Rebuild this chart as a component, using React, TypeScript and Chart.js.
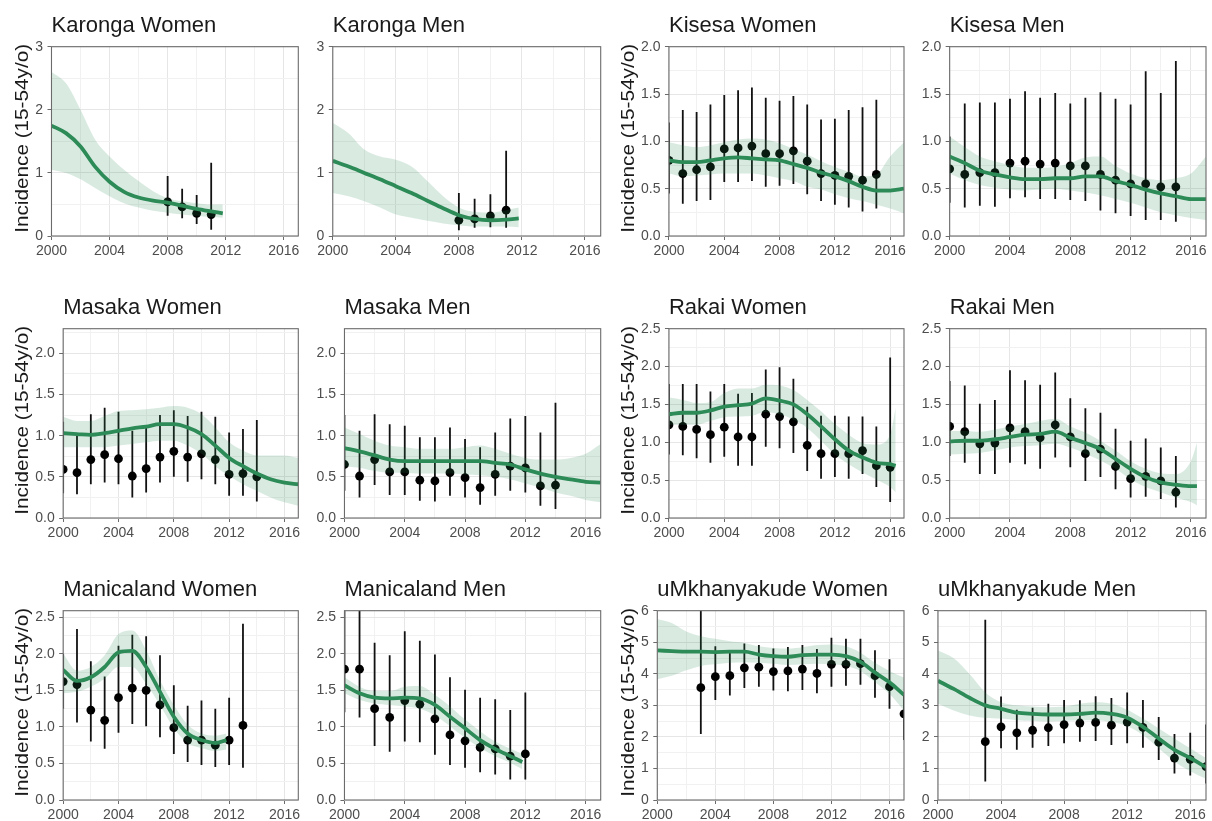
import { useEffect, useRef } from "react";
import { Chart, registerables } from "chart.js";

Chart.register(...registerables);

// ---------- styling ----------
const FONT = "'Liberation Sans', Arial, Helvetica, sans-serif";
const FIT_COLOR = "#2e8b57";
const RIBBON_COLOR = "rgba(46,139,87,0.18)";
const GRID_MAJOR = "#e6e6e6";
const GRID_MINOR = "#f1f1f1";
const FRAME_COLOR = "#6b6b6b";
const TICK_TEXT = "#4d4d4d";

// ---------- shared axes ----------
const X_MIN = 2000;
const X_MAX = 2017;
const xMajorTicks = [2000, 2004, 2008, 2012, 2016];
const xMinorTicks = [2002, 2006, 2010, 2014];

const yMajorThree = [0, 1, 2, 3];
const yMinorThree = [0.5, 1.5, 2.5];
const yMajorTwo = [0, 0.5, 1, 1.5, 2];
const yMinorTwo = [0.25, 0.75, 1.25, 1.75];
const yMajorTwoPointFive = [0, 0.5, 1, 1.5, 2, 2.5];
const yMinorTwoPointFive = [0.25, 0.75, 1.25, 1.75, 2.25];
const yMajorSix = [0, 1, 2, 3, 4, 5, 6];
const yMinorSix = [0.5, 1.5, 2.5, 3.5, 4.5, 5.5];

// ---------- model years ----------
const yearsFull = [2000, 2001, 2002, 2003, 2004, 2005, 2006, 2007, 2008, 2009, 2010, 2011, 2012, 2013, 2014, 2015, 2016, 2017];
const yearsTo2012 = [2000, 2001, 2002, 2003, 2004, 2005, 2006, 2007, 2008, 2009, 2010, 2011, 2011.8];
const yearsTo2016 = [2000, 2001, 2002, 2003, 2004, 2005, 2006, 2007, 2008, 2009, 2010, 2011, 2012, 2013, 2014, 2015, 2016, 2016.4];

// ---------- Karonga ----------
const karongaWomenFit = [1.75, 1.63, 1.42, 1.1, 0.86, 0.7, 0.61, 0.56, 0.53, 0.48, 0.43, 0.39, 0.36];
const karongaWomenHi = [2.6, 2.42, 2.0, 1.53, 1.26, 1.05, 0.87, 0.71, 0.6, 0.55, 0.52, 0.5, 0.5];
const karongaWomenLo = [1.05, 1.0, 0.9, 0.76, 0.63, 0.52, 0.45, 0.4, 0.37, 0.34, 0.32, 0.3, 0.29];
const karongaObsYears = [2008, 2009, 2010, 2011];
const karongaWomenObs = [0.54, 0.46, 0.36, 0.34];
const karongaWomenObsLo = [0.32, 0.28, 0.19, 0.1];
const karongaWomenObsHi = [0.95, 0.75, 0.65, 1.16];

const karongaMenFit = [1.19, 1.1, 1.0, 0.9, 0.79, 0.68, 0.56, 0.44, 0.33, 0.27, 0.25, 0.26, 0.28];
const karongaMenHi = [1.79, 1.63, 1.37, 1.26, 1.21, 1.1, 0.87, 0.63, 0.45, 0.38, 0.37, 0.41, 0.45];
const karongaMenLo = [0.68, 0.63, 0.55, 0.45, 0.34, 0.29, 0.24, 0.2, 0.17, 0.15, 0.15, 0.15, 0.14];
const karongaMenObs = [0.25, 0.27, 0.32, 0.41];
const karongaMenObsLo = [0.09, 0.13, 0.14, 0.13];
const karongaMenObsHi = [0.68, 0.59, 0.66, 1.35];

// ---------- Kisesa ----------
const kisesaObsYears = [2000, 2001, 2002, 2003, 2004, 2005, 2006, 2007, 2008, 2009, 2010, 2011, 2012, 2013, 2014, 2015];
const kisesaWomenFit = [0.8, 0.78, 0.78, 0.8, 0.82, 0.83, 0.82, 0.81, 0.8, 0.76, 0.72, 0.67, 0.63, 0.58, 0.52, 0.48, 0.48, 0.5];
const kisesaWomenHi = [0.99, 0.96, 0.94, 0.96, 0.99, 1.02, 1.03, 1.02, 0.98, 0.92, 0.86, 0.79, 0.73, 0.68, 0.63, 0.65, 0.84, 0.99];
const kisesaWomenLo = [0.66, 0.63, 0.64, 0.65, 0.66, 0.66, 0.66, 0.64, 0.61, 0.58, 0.52, 0.49, 0.44, 0.4, 0.37, 0.33, 0.29, 0.24];
const kisesaWomenObs = [0.8, 0.66, 0.7, 0.73, 0.92, 0.93, 0.95, 0.87, 0.87, 0.9, 0.79, 0.66, 0.64, 0.63, 0.59, 0.65];
const kisesaWomenObsLo = [0.45, 0.34, 0.37, 0.38, 0.57, 0.57, 0.58, 0.52, 0.53, 0.55, 0.44, 0.37, 0.33, 0.3, 0.26, 0.29];
const kisesaWomenObsHi = [1.2, 1.33, 1.31, 1.39, 1.49, 1.54, 1.57, 1.46, 1.43, 1.48, 1.39, 1.23, 1.24, 1.33, 1.36, 1.44];

const kisesaMenFit = [0.84, 0.77, 0.69, 0.65, 0.62, 0.6, 0.6, 0.61, 0.61, 0.63, 0.63, 0.58, 0.54, 0.49, 0.45, 0.42, 0.39, 0.39];
const kisesaMenHi = [1.05, 0.94, 0.84, 0.79, 0.75, 0.72, 0.72, 0.73, 0.77, 0.83, 0.84, 0.74, 0.66, 0.61, 0.59, 0.61, 0.66, 0.84];
const kisesaMenLo = [0.66, 0.59, 0.54, 0.51, 0.49, 0.48, 0.49, 0.5, 0.48, 0.46, 0.43, 0.39, 0.35, 0.3, 0.25, 0.22, 0.19, 0.17];
const kisesaMenObs = [0.71, 0.65, 0.67, 0.67, 0.77, 0.79, 0.76, 0.77, 0.74, 0.74, 0.65, 0.59, 0.55, 0.55, 0.52, 0.52];
const kisesaMenObsLo = [0.35, 0.3, 0.32, 0.31, 0.4, 0.41, 0.39, 0.39, 0.38, 0.37, 0.27, 0.24, 0.21, 0.17, 0.17, 0.15];
const kisesaMenObsHi = [1.05, 1.4, 1.41, 1.41, 1.45, 1.53, 1.46, 1.51, 1.4, 1.46, 1.52, 1.45, 1.39, 1.74, 1.51, 1.85];

// ---------- Masaka ----------
const masakaObsYears = [2000, 2001, 2002, 2003, 2004, 2005, 2006, 2007, 2008, 2009, 2010, 2011, 2012, 2013, 2014];
const masakaWomenFit = [1.03, 1.02, 1.01, 1.03, 1.06, 1.09, 1.11, 1.14, 1.14, 1.1, 1.02, 0.88, 0.73, 0.63, 0.54, 0.47, 0.43, 0.41];
const masakaWomenHi = [1.23, 1.18, 1.18, 1.24, 1.3, 1.31, 1.32, 1.34, 1.36, 1.34, 1.26, 1.1, 0.92, 0.82, 0.76, 0.76, 0.76, 0.73];
const masakaWomenLo = [0.86, 0.86, 0.86, 0.86, 0.88, 0.9, 0.92, 0.94, 0.94, 0.88, 0.78, 0.63, 0.51, 0.41, 0.33, 0.25, 0.19, 0.15];
const masakaWomenObs = [0.59, 0.55, 0.71, 0.77, 0.72, 0.51, 0.6, 0.74, 0.81, 0.74, 0.78, 0.71, 0.53, 0.54, 0.5];
const masakaWomenObsLo = [0.3, 0.29, 0.41, 0.43, 0.41, 0.25, 0.31, 0.43, 0.5, 0.44, 0.47, 0.41, 0.27, 0.27, 0.2];
const masakaWomenObsHi = [1.17, 1.02, 1.26, 1.34, 1.29, 1.06, 1.1, 1.25, 1.31, 1.24, 1.29, 1.23, 1.04, 1.08, 1.19];

const masakaMenFit = [0.85, 0.81, 0.76, 0.71, 0.69, 0.69, 0.69, 0.69, 0.69, 0.69, 0.67, 0.65, 0.59, 0.54, 0.5, 0.47, 0.44, 0.43];
const masakaMenHi = [1.1, 1.02, 0.94, 0.88, 0.86, 0.84, 0.84, 0.84, 0.86, 0.88, 0.84, 0.78, 0.73, 0.71, 0.71, 0.73, 0.78, 0.9];
const masakaMenLo = [0.63, 0.61, 0.57, 0.55, 0.55, 0.54, 0.54, 0.54, 0.53, 0.52, 0.5, 0.47, 0.42, 0.37, 0.31, 0.27, 0.22, 0.19];
const masakaMenObs = [0.65, 0.51, 0.71, 0.56, 0.56, 0.46, 0.45, 0.55, 0.49, 0.37, 0.53, 0.63, 0.61, 0.39, 0.4];
const masakaMenObsLo = [0.33, 0.25, 0.4, 0.28, 0.28, 0.21, 0.2, 0.27, 0.25, 0.16, 0.27, 0.33, 0.31, 0.15, 0.11];
const masakaMenObsHi = [1.25, 1.06, 1.26, 1.14, 1.12, 0.98, 0.98, 1.1, 0.96, 0.86, 1.04, 1.21, 1.24, 1.04, 1.4];

// ---------- Rakai ----------
const rakaiWomenObsYears = [2000, 2001, 2002, 2003, 2004, 2005, 2006, 2007, 2008, 2009, 2010, 2011, 2012, 2013, 2014, 2015, 2016];
const rakaiWomenFit = [1.37, 1.39, 1.39, 1.42, 1.47, 1.49, 1.51, 1.58, 1.55, 1.5, 1.37, 1.21, 1.04, 0.89, 0.8, 0.73, 0.71, 0.69];
const rakaiWomenHi = [1.59, 1.56, 1.52, 1.53, 1.65, 1.71, 1.71, 1.76, 1.75, 1.69, 1.56, 1.41, 1.24, 1.1, 0.99, 0.97, 1.1, 1.46];
const rakaiWomenLo = [1.23, 1.23, 1.23, 1.28, 1.33, 1.34, 1.35, 1.4, 1.37, 1.3, 1.19, 1.02, 0.84, 0.71, 0.6, 0.51, 0.41, 0.34];
const rakaiWomenObs = [1.23, 1.21, 1.17, 1.1, 1.2, 1.07, 1.07, 1.37, 1.34, 1.27, 0.96, 0.85, 0.85, 0.85, 0.89, 0.69, 0.67];
const rakaiWomenObsLo = [0.84, 0.83, 0.79, 0.73, 0.81, 0.69, 0.69, 0.94, 0.92, 0.86, 0.62, 0.52, 0.54, 0.52, 0.58, 0.41, 0.21];
const rakaiWomenObsHi = [1.77, 1.77, 1.77, 1.67, 1.77, 1.64, 1.65, 1.96, 1.99, 1.84, 1.47, 1.35, 1.35, 1.34, 1.34, 1.21, 2.12];

const rakaiMenObsYears = [2000, 2001, 2002, 2003, 2004, 2005, 2006, 2007, 2008, 2009, 2010, 2011, 2012, 2013, 2014, 2015];
const rakaiMenFit = [1.01, 1.02, 1.02, 1.04, 1.07, 1.1, 1.11, 1.14, 1.06, 0.99, 0.91, 0.78, 0.65, 0.54, 0.47, 0.44, 0.42, 0.42];
const rakaiMenHi = [1.15, 1.15, 1.14, 1.17, 1.21, 1.24, 1.28, 1.31, 1.21, 1.13, 1.02, 0.89, 0.75, 0.65, 0.59, 0.58, 0.75, 0.99];
const rakaiMenLo = [0.84, 0.85, 0.86, 0.89, 0.93, 0.95, 0.96, 0.98, 0.93, 0.85, 0.76, 0.65, 0.51, 0.41, 0.34, 0.27, 0.21, 0.17];
const rakaiMenObs = [1.21, 1.14, 0.98, 0.99, 1.19, 1.14, 1.06, 1.23, 1.07, 0.85, 0.91, 0.68, 0.52, 0.55, 0.49, 0.34];
const rakaiMenObsLo = [0.82, 0.73, 0.58, 0.58, 0.73, 0.71, 0.65, 0.8, 0.67, 0.49, 0.54, 0.38, 0.27, 0.28, 0.25, 0.14];
const rakaiMenObsHi = [1.81, 1.75, 1.51, 1.56, 1.95, 1.82, 1.76, 1.92, 1.58, 1.45, 1.39, 1.18, 1.02, 1.05, 0.93, 0.82];

// ---------- Manicaland ----------
const manicalandWomenObsYears = [2000, 2001, 2002, 2003, 2004, 2005, 2006, 2007, 2008, 2009, 2010, 2011, 2012, 2013];
const manicalandWomenFit = [1.78, 1.63, 1.68, 1.82, 2.02, 2.04, 1.82, 1.48, 1.14, 0.91, 0.82, 0.78, 0.82];
const manicalandWomenHi = [2.0, 1.77, 1.82, 1.98, 2.27, 2.32, 2.05, 1.64, 1.3, 1.03, 0.91, 0.88, 0.91];
const manicalandWomenLo = [1.46, 1.48, 1.55, 1.66, 1.82, 1.82, 1.59, 1.3, 0.98, 0.78, 0.71, 0.67, 0.69];
const manicalandWomenObs = [1.62, 1.58, 1.23, 1.09, 1.4, 1.53, 1.5, 1.3, 0.99, 0.82, 0.82, 0.75, 0.82, 1.02];
const manicalandWomenObsLo = [1.25, 1.06, 0.8, 0.7, 0.92, 1.04, 1.01, 0.86, 0.63, 0.52, 0.48, 0.45, 0.48, 0.44];
const manicalandWomenObsHi = [2.0, 2.34, 1.9, 1.69, 2.11, 2.26, 2.24, 1.98, 1.57, 1.29, 1.36, 1.25, 1.4, 2.41];

const manicalandMenObsYears = [2000, 2001, 2002, 2003, 2004, 2005, 2006, 2007, 2008, 2009, 2010, 2011, 2012];
const manicalandMenFit = [1.57, 1.46, 1.4, 1.39, 1.4, 1.39, 1.3, 1.14, 0.98, 0.82, 0.7, 0.6, 0.52];
const manicalandMenHi = [1.68, 1.55, 1.49, 1.49, 1.55, 1.56, 1.44, 1.28, 1.1, 0.94, 0.8, 0.7, 0.63];
const manicalandMenLo = [1.46, 1.37, 1.32, 1.3, 1.28, 1.25, 1.16, 1.01, 0.85, 0.71, 0.6, 0.51, 0.42];
const manicalandMenObs = [1.79, 1.79, 1.25, 1.13, 1.36, 1.31, 1.11, 0.89, 0.81, 0.72, 0.7, 0.6, 0.63];
const manicalandMenObsLo = [1.2, 1.13, 0.74, 0.66, 0.8, 0.79, 0.62, 0.48, 0.44, 0.38, 0.35, 0.28, 0.28];
const manicalandMenObsHi = [2.6, 2.6, 2.15, 1.98, 2.31, 2.18, 1.99, 1.68, 1.51, 1.4, 1.38, 1.23, 1.47];

// ---------- uMkhanyakude ----------
const umkObsYears = [2003, 2004, 2005, 2006, 2007, 2008, 2009, 2010, 2011, 2012, 2013, 2014, 2015, 2016, 2017];
const umkWomenFit = [4.74, 4.72, 4.7, 4.7, 4.69, 4.7, 4.7, 4.61, 4.56, 4.54, 4.59, 4.61, 4.61, 4.56, 4.38, 4.04, 3.73, 3.33];
const umkWomenHi = [5.74, 5.61, 5.34, 5.19, 5.11, 5.03, 4.98, 4.87, 4.82, 4.8, 4.84, 4.91, 4.93, 4.87, 4.67, 4.35, 4.09, 3.88];
const umkWomenLo = [3.83, 3.94, 4.11, 4.25, 4.3, 4.35, 4.37, 4.35, 4.32, 4.28, 4.3, 4.32, 4.3, 4.25, 4.09, 3.73, 3.36, 2.84];
const umkWomenObs = [3.56, 3.91, 3.94, 4.19, 4.21, 4.07, 4.09, 4.15, 4.01, 4.3, 4.3, 4.32, 3.94, 3.59, 2.73];
const umkWomenObsLo = [2.09, 3.17, 3.31, 3.55, 3.59, 3.47, 3.45, 3.49, 3.38, 3.59, 3.62, 3.65, 3.24, 2.89, 1.9];
const umkWomenObsHi = [6.1, 4.87, 4.67, 4.96, 4.91, 4.8, 4.85, 4.91, 4.79, 5.14, 5.11, 5.11, 4.75, 4.46, 3.4];

const umkMenFit = [3.78, 3.52, 3.24, 3.0, 2.89, 2.77, 2.73, 2.71, 2.71, 2.73, 2.77, 2.73, 2.61, 2.32, 1.95, 1.59, 1.33, 1.04];
const umkMenHi = [4.74, 4.49, 3.99, 3.41, 3.1, 3.0, 2.96, 2.94, 2.96, 3.05, 3.1, 3.05, 2.86, 2.58, 2.27, 1.95, 1.64, 1.33];
const umkMenLo = [3.05, 2.84, 2.68, 2.6, 2.58, 2.53, 2.51, 2.49, 2.51, 2.53, 2.53, 2.47, 2.34, 2.06, 1.64, 1.22, 0.91, 0.67];
const umkMenObs = [1.85, 2.32, 2.13, 2.21, 2.29, 2.39, 2.44, 2.46, 2.37, 2.47, 2.3, 1.83, 1.33, 1.29, 1.06];
const umkMenObsLo = [0.59, 1.64, 1.59, 1.66, 1.71, 1.8, 1.85, 1.87, 1.74, 1.8, 1.66, 1.27, 0.84, 0.78, 0.52];
const umkMenObsHi = [5.71, 3.28, 2.86, 2.92, 3.05, 3.17, 3.16, 3.29, 3.23, 3.41, 3.17, 2.63, 2.09, 2.13, 2.39];

// ---------- grid of panels ----------
const CELL_LEFT = [0, 303, 606, 909];
const CELL_WIDTH = 303;
const CELL_TOP = [0, 282, 564];
const CELL_HEIGHT = [282, 282, 257];
const PLOT_TOP = 46.7;
const PLOT_BOTTOM = 236;
const PLOT_RIGHT = [298.3, 297.7, 298, 297];
const Y_PAD_LEFT = [30.7, 9, 30.5, 8.2];
const Y_TITLE_X = 27.5;
const Y_TITLE = "Incidence (15-54y/o)";

type Panel = {
  title: string;
  row: number;
  col: number;
  fitYears: number[];
  fit: number[];
  lo: number[];
  hi: number[];
  obsYears: number[];
  obs: number[];
  obsLo: number[];
  obsHi: number[];
  yMax: number;
  yMajor: number[];
  yMinor: number[];
  decimals: number;
};

const panels: Panel[] = [
  { title: "Karonga Women", row: 0, col: 0, fitYears: yearsTo2012, fit: karongaWomenFit, lo: karongaWomenLo, hi: karongaWomenHi, obsYears: karongaObsYears, obs: karongaWomenObs, obsLo: karongaWomenObsLo, obsHi: karongaWomenObsHi, yMax: 3, yMajor: yMajorThree, yMinor: yMinorThree, decimals: 0 },
  { title: "Karonga Men", row: 0, col: 1, fitYears: yearsTo2012, fit: karongaMenFit, lo: karongaMenLo, hi: karongaMenHi, obsYears: karongaObsYears, obs: karongaMenObs, obsLo: karongaMenObsLo, obsHi: karongaMenObsHi, yMax: 3, yMajor: yMajorThree, yMinor: yMinorThree, decimals: 0 },
  { title: "Kisesa Women", row: 0, col: 2, fitYears: yearsFull, fit: kisesaWomenFit, lo: kisesaWomenLo, hi: kisesaWomenHi, obsYears: kisesaObsYears, obs: kisesaWomenObs, obsLo: kisesaWomenObsLo, obsHi: kisesaWomenObsHi, yMax: 2, yMajor: yMajorTwo, yMinor: yMinorTwo, decimals: 1 },
  { title: "Kisesa Men", row: 0, col: 3, fitYears: yearsFull, fit: kisesaMenFit, lo: kisesaMenLo, hi: kisesaMenHi, obsYears: kisesaObsYears, obs: kisesaMenObs, obsLo: kisesaMenObsLo, obsHi: kisesaMenObsHi, yMax: 2, yMajor: yMajorTwo, yMinor: yMinorTwo, decimals: 1 },
  { title: "Masaka Women", row: 1, col: 0, fitYears: yearsFull, fit: masakaWomenFit, lo: masakaWomenLo, hi: masakaWomenHi, obsYears: masakaObsYears, obs: masakaWomenObs, obsLo: masakaWomenObsLo, obsHi: masakaWomenObsHi, yMax: 2.3, yMajor: yMajorTwo, yMinor: yMinorTwoPointFive, decimals: 1 },
  { title: "Masaka Men", row: 1, col: 1, fitYears: yearsFull, fit: masakaMenFit, lo: masakaMenLo, hi: masakaMenHi, obsYears: masakaObsYears, obs: masakaMenObs, obsLo: masakaMenObsLo, obsHi: masakaMenObsHi, yMax: 2.3, yMajor: yMajorTwo, yMinor: yMinorTwoPointFive, decimals: 1 },
  { title: "Rakai Women", row: 1, col: 2, fitYears: yearsTo2016, fit: rakaiWomenFit, lo: rakaiWomenLo, hi: rakaiWomenHi, obsYears: rakaiWomenObsYears, obs: rakaiWomenObs, obsLo: rakaiWomenObsLo, obsHi: rakaiWomenObsHi, yMax: 2.5, yMajor: yMajorTwoPointFive, yMinor: yMinorTwoPointFive, decimals: 1 },
  { title: "Rakai Men", row: 1, col: 3, fitYears: yearsTo2016, fit: rakaiMenFit, lo: rakaiMenLo, hi: rakaiMenHi, obsYears: rakaiMenObsYears, obs: rakaiMenObs, obsLo: rakaiMenObsLo, obsHi: rakaiMenObsHi, yMax: 2.5, yMajor: yMajorTwoPointFive, yMinor: yMinorTwoPointFive, decimals: 1 },
  { title: "Manicaland Women", row: 2, col: 0, fitYears: yearsTo2012, fit: manicalandWomenFit, lo: manicalandWomenLo, hi: manicalandWomenHi, obsYears: manicalandWomenObsYears, obs: manicalandWomenObs, obsLo: manicalandWomenObsLo, obsHi: manicalandWomenObsHi, yMax: 2.59, yMajor: yMajorTwoPointFive, yMinor: yMinorTwoPointFive, decimals: 1 },
  { title: "Manicaland Men", row: 2, col: 1, fitYears: yearsTo2012, fit: manicalandMenFit, lo: manicalandMenLo, hi: manicalandMenHi, obsYears: manicalandMenObsYears, obs: manicalandMenObs, obsLo: manicalandMenObsLo, obsHi: manicalandMenObsHi, yMax: 2.59, yMajor: yMajorTwoPointFive, yMinor: yMinorTwoPointFive, decimals: 1 },
  { title: "uMkhanyakude Women", row: 2, col: 2, fitYears: yearsFull, fit: umkWomenFit, lo: umkWomenLo, hi: umkWomenHi, obsYears: umkObsYears, obs: umkWomenObs, obsLo: umkWomenObsLo, obsHi: umkWomenObsHi, yMax: 6, yMajor: yMajorSix, yMinor: yMinorSix, decimals: 0 },
  { title: "uMkhanyakude Men", row: 2, col: 3, fitYears: yearsFull, fit: umkMenFit, lo: umkMenLo, hi: umkMenHi, obsYears: umkObsYears, obs: umkMenObs, obsLo: umkMenObsLo, obsHi: umkMenObsHi, yMax: 6, yMajor: yMajorSix, yMinor: yMinorSix, decimals: 0 },
];

const toPoints = (xs: number[], ys: number[]) => xs.map((x, i) => ({ x, y: ys[i] }));

// Error bars, panel frame, panel title and y-axis title.
const panelDecor = {
  id: "panelDecor",
  beforeDatasetDraw(chart: any, args: any) {
    const ds: any = chart.data.datasets[args.index];
    if (!ds.errLow) return;
    const { ctx, chartArea: a, scales } = chart;
    ctx.save();
    ctx.beginPath();
    ctx.rect(a.left, a.top, a.right - a.left, a.bottom - a.top);
    ctx.clip();
    ctx.strokeStyle = "#111111";
    ctx.lineWidth = 1.8;
    ds.data.forEach((pt: any, i: number) => {
      const px = scales.x.getPixelForValue(pt.x);
      ctx.beginPath();
      ctx.moveTo(px, scales.y.getPixelForValue(ds.errLow[i]));
      ctx.lineTo(px, scales.y.getPixelForValue(ds.errHigh[i]));
      ctx.stroke();
    });
    ctx.restore();
  },
  afterDatasetsDraw(chart: any) {
    const { ctx, chartArea: a } = chart;
    ctx.save();
    ctx.strokeStyle = FRAME_COLOR;
    ctx.lineWidth = 1.1;
    ctx.strokeRect(a.left, a.top, a.right - a.left, a.bottom - a.top);
    ctx.restore();
  },
  afterDraw(chart: any, _args: any, opts: any) {
    const { ctx, chartArea: a } = chart;
    ctx.save();
    ctx.fillStyle = "#1a1a1a";
    ctx.font = `22px ${FONT}`;
    ctx.textAlign = "left";
    ctx.textBaseline = "alphabetic";
    ctx.fillText(opts.title, a.left, a.top - 15);
    if (opts.showYTitle) {
      ctx.font = `18.5px ${FONT}`;
      ctx.translate(Y_TITLE_X, (a.top + a.bottom) / 2 - 3);
      ctx.rotate(-Math.PI / 2);
      ctx.scale(1.12, 1);
      ctx.textAlign = "center";
      ctx.fillText(Y_TITLE, 0, 0);
    }
    ctx.restore();
  },
};

function PanelChart({ p }: { p: Panel }) {
  const ref = useRef<HTMLCanvasElement>(null);
  const width = CELL_WIDTH;
  const height = CELL_HEIGHT[p.row];

  useEffect(() => {
    const canvas = ref.current;
    if (!canvas) return;
    const yMinorSet = new Set(p.yMinor);
    const xMinorSet = new Set(xMinorTicks);
    const yTicks = [...p.yMajor, ...p.yMinor].filter((v) => v <= p.yMax).sort((a, b) => a - b);
    const xTicks = [...xMajorTicks, ...xMinorTicks].sort((a, b) => a - b);

    const chart = new Chart(canvas, {
      type: "line",
      data: {
        datasets: [
          {
            label: "upper",
            data: toPoints(p.fitYears, p.hi),
            borderColor: "rgba(0,0,0,0)",
            borderWidth: 0,
            pointRadius: 0,
            backgroundColor: RIBBON_COLOR,
            fill: "+1",
            cubicInterpolationMode: "monotone",
            clip: 0,
          },
          {
            label: "lower",
            data: toPoints(p.fitYears, p.lo),
            borderColor: "rgba(0,0,0,0)",
            borderWidth: 0,
            pointRadius: 0,
            fill: false,
            cubicInterpolationMode: "monotone",
            clip: 0,
          },
          {
            label: "fit",
            data: toPoints(p.fitYears, p.fit),
            borderColor: FIT_COLOR,
            borderWidth: 3.8,
            pointRadius: 0,
            fill: false,
            cubicInterpolationMode: "monotone",
            clip: 0,
          },
          {
            label: "observed",
            data: toPoints(p.obsYears, p.obs),
            showLine: false,
            pointRadius: 4.4,
            pointBackgroundColor: "#000000",
            pointBorderWidth: 0,
            fill: false,
            clip: 0,
            errLow: p.obsLo,
            errHigh: p.obsHi,
          } as any,
        ],
      },
      options: {
        animation: false,
        responsive: false,
        maintainAspectRatio: false,
        events: [],
        layout: {
          padding: {
            left: Y_PAD_LEFT[p.col],
            top: PLOT_TOP,
            right: CELL_WIDTH - PLOT_RIGHT[p.col],
            bottom: 0,
          },
        },
        plugins: {
          legend: { display: false },
          tooltip: { enabled: false },
          title: { display: false },
          panelDecor: { title: p.title, showYTitle: p.col === 0 || p.col === 2 },
        } as any,
        scales: {
          x: {
            type: "linear",
            min: X_MIN,
            max: X_MAX,
            afterBuildTicks: (scale: any) => {
              scale.ticks = xTicks.map((value) => ({ value }));
            },
            afterFit: (scale: any) => {
              scale.height = height - PLOT_BOTTOM;
              scale.paddingLeft = 0;
              scale.paddingRight = 0;
            },
            border: { display: false },
            grid: {
              color: (c: any) => (xMinorSet.has(c.tick?.value) ? GRID_MINOR : GRID_MAJOR),
              lineWidth: 1,
              tickLength: 4,
              tickColor: (c: any) => (xMinorSet.has(c.tick?.value) ? "rgba(0,0,0,0)" : FRAME_COLOR),
            },
            ticks: {
              autoSkip: false,
              maxRotation: 0,
              padding: 3,
              color: TICK_TEXT,
              font: { family: FONT, size: 14 },
              callback: (v: any) => (xMinorSet.has(v) ? "" : String(v)),
            },
          },
          y: {
            type: "linear",
            min: 0,
            max: p.yMax,
            afterBuildTicks: (scale: any) => {
              scale.ticks = yTicks.map((value) => ({ value }));
            },
            afterFit: (scale: any) => {
              scale.paddingTop = 0;
              scale.paddingBottom = 0;
            },
            border: { display: false },
            grid: {
              color: (c: any) => (yMinorSet.has(c.tick?.value) ? GRID_MINOR : GRID_MAJOR),
              lineWidth: 1,
              tickLength: 4,
              tickColor: (c: any) => (yMinorSet.has(c.tick?.value) ? "rgba(0,0,0,0)" : FRAME_COLOR),
            },
            ticks: {
              autoSkip: false,
              padding: 4.5,
              color: TICK_TEXT,
              font: { family: FONT, size: 14 },
              callback: (v: any) => (yMinorSet.has(v) ? "" : Number(v).toFixed(p.decimals)),
            },
          },
        },
      },
      plugins: [panelDecor as any],
    });
    return () => chart.destroy();
  }, [p, height]);

  return (
    <canvas
      ref={ref}
      width={width}
      height={height}
      style={{
        position: "absolute",
        left: CELL_LEFT[p.col],
        top: CELL_TOP[p.row],
        width,
        height,
      }}
    />
  );
}

export default function App() {
  return (
    <div
      style={{
        position: "absolute",
        left: 0,
        top: 0,
        width: 1212,
        height: 821,
        background: "#ffffff",
        overflow: "hidden",
      }}
    >
      {panels.map((p) => (
        <PanelChart key={p.title} p={p} />
      ))}
    </div>
  );
}
